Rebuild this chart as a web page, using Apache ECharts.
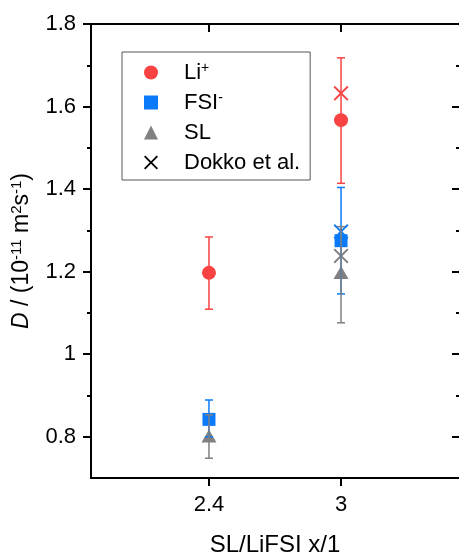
<!DOCTYPE html>
<html>
<head>
<meta charset="utf-8">
<script src="https://cdn.jsdelivr.net/npm/echarts@6/dist/echarts.min.js"></script>
<style>html,body{margin:0;padding:0;background:#fff;overflow:hidden;}#c{width:459px;height:558px;}</style>
</head>
<body>
<div id="c"></div>
<script>
// ---- data ----
const xValues = [2.4, 3];
const liMean = [1.197, 1.567];
const liLow = [1.109, 1.414];
const liHigh = [1.284, 1.718];
const fsiMean = [0.842, 1.275];
const fsiLow = [0.800, 1.146];
const fsiHigh = [0.889, 1.404];
const slMean = [0.802, 1.198];
const slLow = [0.748, 1.076];
const slHigh = [0.853, 1.309];
const dokkoX = [3, 3, 3];
const dokkoY = [1.632, 1.297, 1.238]; // Li+, FSI-, SL
const xTicks = [2.4, 3];
const xTickLabels = ['2.4', '3'];
const yMajor = [0.8, 1.0, 1.2, 1.4, 1.6, 1.8];
const yMinor = [0.9, 1.1, 1.3, 1.5, 1.7];
const seriesNames = ['Li+', 'FSI-', 'SL', 'Dokko et al.'];

const RED = '#F94343', BLUE = '#0A7AF8', GRAY = '#808080';
const FONT = '"Liberation Sans", Arial, sans-serif';
const X_PATH = 'path://M0,0.9L0.9,0L5,4.1L9.1,0L10,0.9L5.9,5L10,9.1L9.1,10L5,5.9L0.9,10L0,9.1L4.1,5Z';
const dokkoColors = [RED, BLUE, GRAY];

function pts(xs, ys) { return xs.map((x, i) => [x, ys[i]]); }
function errData(xs, m, lo, hi) { return xs.map((x, i) => [x, m[i], lo[i], hi[i]]); }

function errSeries(name, color, data) {
  return {
    type: 'custom', name: name, z: 3, silent: true,
    xAxisIndex: 0, yAxisIndex: 0,
    encode: { x: 0, y: 1 },
    data: data,
    renderItem: function (params, api) {
      const x = api.value(0);
      const top = api.coord([x, api.value(3)]);
      const bot = api.coord([x, api.value(2)]);
      const hw = 4;
      const st = { stroke: color, lineWidth: 1.5, fill: null };
      return {
        type: 'group',
        children: [
          { type: 'line', shape: { x1: top[0], y1: top[1], x2: bot[0], y2: bot[1] }, style: st },
          { type: 'line', shape: { x1: top[0] - hw, y1: top[1], x2: top[0] + hw, y2: top[1] }, style: st },
          { type: 'line', shape: { x1: bot[0] - hw, y1: bot[1], x2: bot[0] + hw, y2: bot[1] }, style: st }
        ]
      };
    }
  };
}

const axisLine = { show: true, lineStyle: { color: '#000', width: 2 } };
const XMIN = 1.864, XMAX = 3.536;

const chart = echarts.init(document.getElementById('c'), null, { renderer: 'canvas' });
chart.setOption({
  backgroundColor: '#fff',
  animation: false,
  textStyle: { fontFamily: FONT },
  grid: { left: 91, right: 0, top: 24, bottom: 80, containLabel: false, outerBoundsMode: 'none' },
  legend: {
    orient: 'vertical', left: 122, top: 52,
    padding: [9, 10, 6, 22],
    borderColor: '#555', borderWidth: 1,
    itemWidth: 14, itemHeight: 14, itemGap: 7,
    data: [
      { name: seriesNames[0], icon: 'circle' },
      { name: seriesNames[1], icon: 'rect' },
      { name: seriesNames[2], icon: 'triangle' },
      { name: seriesNames[3], icon: X_PATH }
    ],
    formatter: function (n) {
      if (n === 'Li+') return '{g|}Li{s|+}';
      if (n === 'FSI-') return '{g|}FSI{s|-}';
      return '{g|}' + n;
    },
    textStyle: {
      fontSize: 22, color: '#000', fontFamily: FONT, lineHeight: 23,
      rich: {
        g: { width: 21, fontSize: 22, lineHeight: 23 },
        s: { fontSize: 14, color: '#000', fontFamily: FONT, verticalAlign: 'top', lineHeight: 14 }
      }
    }
  },
  xAxis: [
    {
      type: 'value', position: 'bottom', min: XMIN, max: XMAX,
      axisLine: axisLine,
      axisTick: { show: true, inside: false, length: 8, lineStyle: { color: '#000', width: 2 }, customValues: xTicks },
      axisLabel: { show: true, fontSize: 22, color: '#000', fontFamily: FONT, margin: 16, customValues: xTicks,
        formatter: function (v) { const i = xTicks.indexOf(v); return i >= 0 ? xTickLabels[i] : ''; } },
      splitLine: { show: false },
      name: 'SL/LiFSI x/1', nameLocation: 'middle', nameGap: 55,
      nameTextStyle: { fontSize: 24, color: '#000', fontFamily: FONT }
    },
    {
      type: 'value', position: 'top', min: XMIN, max: XMAX,
      axisLine: axisLine,
      axisTick: { show: true, inside: true, length: 8, lineStyle: { color: '#000', width: 2 }, customValues: xTicks },
      axisLabel: { show: false },
      splitLine: { show: false }
    }
  ],
  yAxis: [
    {
      type: 'value', position: 'left', min: 0.7, max: 1.8,
      axisLine: axisLine,
      axisTick: { show: true, inside: false, length: 8, lineStyle: { color: '#000', width: 2 }, customValues: yMajor },
      axisLabel: { show: true, fontSize: 22, color: '#000', fontFamily: FONT, margin: 15, customValues: yMajor },
      splitLine: { show: false },
      name: '{i|D} / (10{s|-11} m{s|2}s{s|-1})', nameLocation: 'middle', nameGap: 43, nameRotate: 90,
      nameTextStyle: {
        fontSize: 23, color: '#000', fontFamily: FONT, lineHeight: 25,
        rich: {
          i: { fontStyle: 'italic', fontSize: 23, color: '#000', fontFamily: FONT, lineHeight: 25 },
          s: { fontSize: 15, color: '#000', fontFamily: FONT, verticalAlign: 'top', lineHeight: 15 }
        }
      }
    },
    {
      type: 'value', position: 'left', min: 0.7, max: 1.8,
      axisLine: { show: false },
      axisTick: { show: true, inside: false, length: 4, lineStyle: { color: '#000', width: 2 }, customValues: yMinor },
      axisLabel: { show: false }, splitLine: { show: false }
    },
    {
      type: 'value', position: 'right', min: 0.7, max: 1.8,
      axisLine: { show: false },
      axisTick: { show: true, inside: true, length: 7, lineStyle: { color: '#000', width: 2 }, customValues: yMajor },
      axisLabel: { show: false }, splitLine: { show: false }
    },
    {
      type: 'value', position: 'right', min: 0.7, max: 1.8,
      axisLine: { show: false },
      axisTick: { show: true, inside: true, length: 3, lineStyle: { color: '#000', width: 2 }, customValues: yMinor },
      axisLabel: { show: false }, splitLine: { show: false }
    }
  ],
  series: [
    {
      type: 'scatter', name: seriesNames[0], z: 2, symbol: 'circle', symbolSize: 14,
      itemStyle: { color: RED, opacity: 1 }, data: pts(xValues, liMean)
    },
    {
      type: 'scatter', name: seriesNames[1], z: 2, symbol: 'rect', symbolSize: 13,
      itemStyle: { color: BLUE, opacity: 1 }, data: pts(xValues, fsiMean)
    },
    {
      type: 'scatter', name: seriesNames[2], z: 2, symbol: 'triangle', symbolSize: [15, 13],
      itemStyle: { color: GRAY, opacity: 1 }, data: pts(xValues, slMean)
    },
    {
      type: 'scatter', name: seriesNames[3], z: 1, symbol: X_PATH, symbolSize: 15,
      itemStyle: { color: '#000', opacity: 1 },
      data: dokkoX.map((x, i) => ({ value: [x, dokkoY[i]], itemStyle: { color: dokkoColors[i] } }))
    },
    errSeries(seriesNames[0], RED, errData(xValues, liMean, liLow, liHigh)),
    errSeries(seriesNames[1], BLUE, errData(xValues, fsiMean, fsiLow, fsiHigh)),
    errSeries(seriesNames[2], GRAY, errData(xValues, slMean, slLow, slHigh))
  ]
});
</script>
</body>
</html>
